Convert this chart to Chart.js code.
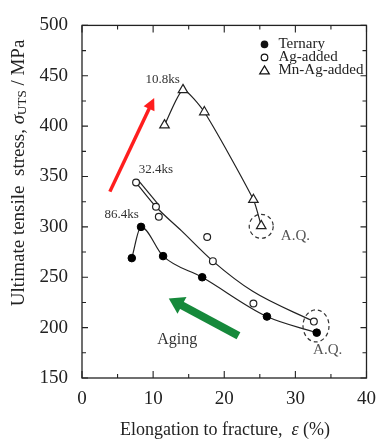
<!DOCTYPE html>
<html><head><meta charset="utf-8">
<script src="https://cdn.jsdelivr.net/npm/chart.js@4/dist/chart.umd.min.js"></script>
<style>html,body{margin:0;padding:0;background:#fff;}</style>
</head><body>
<canvas id="c" width="386" height="439"></canvas>
<script>
// ---- data ----
const ternaryX = [7.0, 8.3, 11.4, 16.9, 26.0, 33.0];
const ternaryY = [269, 300, 271, 250, 211, 195];

const agX = [7.6, 10.4, 10.8, 17.6, 18.4, 24.1, 32.6];
const agY = [344, 320, 310, 290, 266, 224, 206];

const agFitX = [7.6, 10.4, 14.0, 18.4, 24.0, 32.6];
const agFitY = [344, 320, 296, 266, 236, 206];
const agFit2X = [7.95, 10.75];
const agFit2Y = [346, 322];

const mnX = [11.6, 14.2, 17.2, 24.1, 25.2];
const mnY = [401, 436, 414, 327, 301];

const xTickLabels = [0, 10, 20, 30, 40];
const yTickLabels = [150, 200, 250, 300, 350, 400, 450, 500];

const seriesNames = ['Ternary', 'Ag-added', 'Mn-Ag-added'];

// annotation anchors in data units
const agingLabels = [
  {text: '10.8ks', x: 11.33, y: 446.4, size: 13},
  {text: '32.4ks', x: 10.38, y: 356.7, size: 13},
  {text: '86.4ks', x: 5.56, y: 311.8, size: 13},
  {text: 'A.Q.', x: 30.0, y: 290.4, size: 15},
  {text: 'A.Q.', x: 34.54, y: 177.3, size: 15},
  {text: 'Aging', x: 13.38, y: 188, size: 16}
];
const dashedRings = [
  {x: 25.2, y: 300.6, rx: 12, ry: 12},
  {x: 32.9, y: 201.7, rx: 13, ry: 16}
];
const arrows = [
  {x1: 3.92, y1: 335, x2: 10.15, y2: 428, color: '#ff1e1e', w: 3.5, hw: 12, hl: 12},
  {x1: 22.0, y1: 192, x2: 12.2, y2: 229, color: '#16893b', w: 8, hw: 19, hl: 15}
];

const pts = (xs, ys) => xs.map((x, i) => ({x: x, y: ys[i]}));
const SERIF = '"Liberation Serif", "DejaVu Serif", serif';

const boxPlugin = {
  id: 'box',
  afterDatasetsDraw(chart) {
    const ctx = chart.ctx, a = chart.chartArea;
    const xs = chart.scales.x, ys = chart.scales.y;
    ctx.save();
    ctx.strokeStyle = '#222';
    ctx.lineWidth = 1.3;
    ctx.strokeRect(a.left, a.top, a.right - a.left, a.bottom - a.top);
    ctx.lineWidth = 1.1;
    ctx.beginPath();
    for (let v = 0; v <= 40; v += 5) {
      const px = xs.getPixelForValue(v);
      const L = (v % 10 === 0) ? 7 : 4;
      ctx.moveTo(px, a.bottom); ctx.lineTo(px, a.bottom - L);
      ctx.moveTo(px, a.top); ctx.lineTo(px, a.top + L);
    }
    for (let v = 150; v <= 500; v += 25) {
      const py = ys.getPixelForValue(v);
      const L = (v % 50 === 0) ? 6 : 4;
      ctx.moveTo(a.left, py); ctx.lineTo(a.left + L, py);
      ctx.moveTo(a.right, py); ctx.lineTo(a.right - L, py);
    }
    ctx.stroke();

    // dashed rings
    ctx.setLineDash([4, 3]);
    ctx.lineWidth = 1.2;
    ctx.strokeStyle = '#333';
    dashedRings.forEach(r => {
      ctx.beginPath();
      ctx.ellipse(xs.getPixelForValue(r.x), ys.getPixelForValue(r.y), r.rx, r.ry, 0, 0, Math.PI * 2);
      ctx.stroke();
    });
    ctx.setLineDash([]);

    // arrows
    arrows.forEach(ar => {
      const x1 = xs.getPixelForValue(ar.x1), y1 = ys.getPixelForValue(ar.y1);
      const x2 = xs.getPixelForValue(ar.x2), y2 = ys.getPixelForValue(ar.y2);
      const ang = Math.atan2(y2 - y1, x2 - x1);
      const bx = x2 - Math.cos(ang) * ar.hl, by = y2 - Math.sin(ang) * ar.hl;
      ctx.strokeStyle = ar.color; ctx.fillStyle = ar.color;
      ctx.lineWidth = ar.w; ctx.lineCap = 'butt';
      ctx.beginPath(); ctx.moveTo(x1, y1); ctx.lineTo(bx + Math.cos(ang) * 2, by + Math.sin(ang) * 2); ctx.stroke();
      const nx = -Math.sin(ang), ny = Math.cos(ang);
      ctx.beginPath();
      ctx.moveTo(x2, y2);
      ctx.lineTo(bx + nx * ar.hw / 2, by + ny * ar.hw / 2);
      ctx.lineTo(bx - nx * ar.hw / 2, by - ny * ar.hw / 2);
      ctx.closePath(); ctx.fill();
    });

    // texts
    ctx.textAlign = 'center'; ctx.textBaseline = 'middle';
    agingLabels.forEach(l => {
      ctx.fillStyle = l.text === 'A.Q.' ? '#555' : '#333';
      ctx.font = l.size + 'px ' + SERIF;
      ctx.fillText(l.text, xs.getPixelForValue(l.x), ys.getPixelForValue(l.y));
    });

    // legend
    const lx = a.right - 102, ly = a.top + 19, gap = 13;
    ctx.font = '15px ' + SERIF;
    ctx.textAlign = 'left';
    seriesNames.forEach((n, i) => {
      const y = ly + i * gap;
      ctx.lineWidth = 1.2; ctx.strokeStyle = '#111'; ctx.fillStyle = '#111';
      ctx.beginPath();
      if (i === 0) { ctx.arc(lx, y, 3.8, 0, Math.PI * 2); ctx.fill(); }
      else if (i === 1) { ctx.arc(lx, y, 3.3, 0, Math.PI * 2); ctx.stroke(); }
      else { ctx.moveTo(lx, y - 4.5); ctx.lineTo(lx + 4.8, y + 3.5); ctx.lineTo(lx - 4.8, y + 3.5); ctx.closePath(); ctx.stroke(); }
      ctx.fillStyle = '#222';
      ctx.fillText(n, lx + 14, y);
    });
    ctx.restore();
  },
  afterDraw(chart) {
    const ctx = chart.ctx;
    ctx.save();
    ctx.fillStyle = '#222';
    ctx.textBaseline = 'middle';
    // x title
    const xparts = [
      {t: 'Elongation to fracture,  ', f: '18px ' + SERIF},
      {t: 'ε', f: 'italic 18px ' + SERIF},
      {t: ' (%)', f: '18px ' + SERIF}
    ];
    let tot = 0;
    xparts.forEach(p => { ctx.font = p.f; p.w = ctx.measureText(p.t).width; tot += p.w; });
    let cx = 225 - tot / 2;
    ctx.textAlign = 'left';
    xparts.forEach(p => { ctx.font = p.f; ctx.fillText(p.t, cx, 430); cx += p.w; });
    // y title
    const yparts = [
      {t: 'Ultimate tensile  stress, ', f: '19px ' + SERIF, dy: 0},
      {t: 'σ', f: 'italic 19px ' + SERIF, dy: 0},
      {t: 'UTS', f: '13px ' + SERIF, dy: 4},
      {t: ' / MPa', f: '19px ' + SERIF, dy: 0}
    ];
    tot = 0;
    yparts.forEach(p => { ctx.font = p.f; p.w = ctx.measureText(p.t).width; tot += p.w; });
    ctx.translate(19, 173);
    ctx.rotate(-Math.PI / 2);
    cx = -tot / 2;
    yparts.forEach(p => { ctx.font = p.f; ctx.fillText(p.t, cx, p.dy); cx += p.w; });
    ctx.restore();
  }
};

new Chart(document.getElementById('c'), {
  type: 'scatter',
  data: {
    datasets: [
      {label: 'Ternary', data: pts(ternaryX, ternaryY), showLine: true, cubicInterpolationMode: 'monotone',
       borderColor: '#222', borderWidth: 1.2, pointStyle: 'circle', pointRadius: 3.8,
       pointBackgroundColor: '#000', pointBorderColor: '#000', pointBorderWidth: 1},
      {label: 'Ag-added', data: pts(agX, agY), showLine: false, pointStyle: 'circle', pointRadius: 3.4,
       pointBackgroundColor: '#fff', pointBorderColor: '#222', pointBorderWidth: 1.2},
      {label: 'Mn-Ag-added', data: pts(mnX, mnY), showLine: true, tension: 0.2,
       borderColor: '#222', borderWidth: 1.2, pointStyle: 'triangle', pointRadius: 5.5,
       pointBackgroundColor: '#fff', pointBorderColor: '#222', pointBorderWidth: 1.2},
      {label: 'Ag fit', data: pts(agFitX, agFitY), showLine: true, cubicInterpolationMode: 'monotone',
       borderColor: '#222', borderWidth: 1.2, pointRadius: 0},
      {label: 'Ag fit 2', data: pts(agFit2X, agFit2Y), showLine: true,
       borderColor: '#222', borderWidth: 1.2, pointRadius: 0}
    ]
  },
  options: {
    responsive: false,
    devicePixelRatio: 1,
    animation: false,
    layout: {padding: {top: 19, right: 11, left: 0, bottom: 0}},
    plugins: {legend: {display: false}, tooltip: {enabled: false}},
    scales: {
      x: {
        type: 'linear', min: 0, max: 40,
        afterFit: s => { s.height = 61; },
        afterBuildTicks: s => { s.ticks = xTickLabels.map(v => ({value: v})); },
        grid: {display: false, drawTicks: false},
        border: {display: false},
        ticks: {padding: 10, color: '#222', font: {family: SERIF, size: 19}, maxRotation: 0}
      },
      y: {
        type: 'linear', min: 150, max: 500,
        afterFit: s => { s.width = 82; },
        afterBuildTicks: s => { s.ticks = yTickLabels.map(v => ({value: v})); },
        grid: {display: false, drawTicks: false},
        border: {display: false},
        ticks: {padding: 14, color: '#222', font: {family: SERIF, size: 19}}
      }
    }
  },
  plugins: [boxPlugin]
});
</script>
</body></html>
